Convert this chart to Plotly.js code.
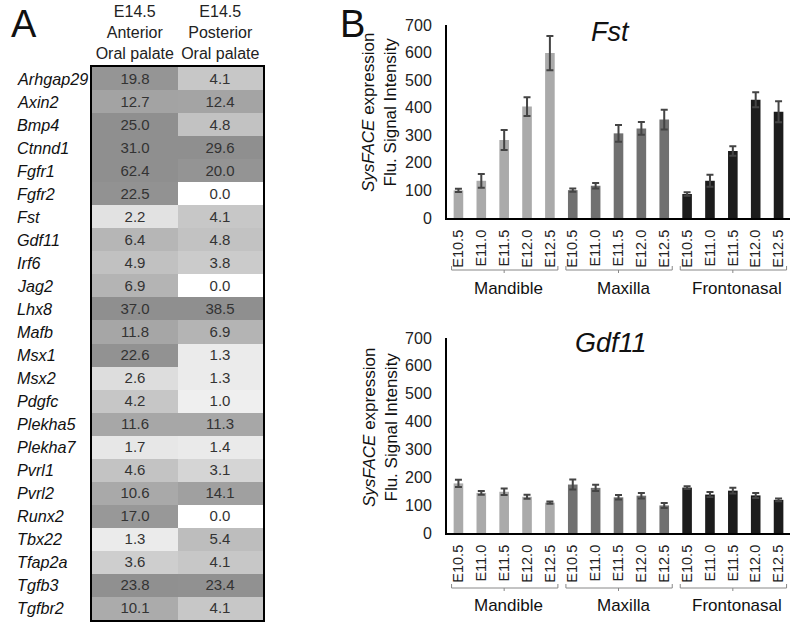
<!DOCTYPE html>
<html><head><meta charset="utf-8">
<script src="https://cdn.plot.ly/plotly-3.0.1.min.js"></script>
<style>html,body{margin:0;padding:0;background:#fff}#chart{width:800px;height:625px}</style>
</head><body><div id="chart"></div>
<script>
// ---- Panel A data ----
const genes = ["Arhgap29","Axin2","Bmp4","Ctnnd1","Fgfr1","Fgfr2","Fst","Gdf11","Irf6","Jag2","Lhx8","Mafb","Msx1","Msx2","Pdgfc","Plekha5","Plekha7","Pvrl1","Pvrl2","Runx2","Tbx22","Tfap2a","Tgfb3","Tgfbr2"];
const regions = ["E14.5<br>Anterior<br>Oral palate","E14.5<br>Posterior<br>Oral palate"];
const anterior = [19.8,12.7,25.0,31.0,62.4,22.5,2.2,6.4,4.9,6.9,37.0,11.8,22.6,2.6,4.2,11.6,1.7,4.6,10.6,17.0,1.3,3.6,23.8,10.1];
const posterior = [4.1,12.4,4.8,29.6,20.0,0.0,4.1,4.8,3.8,0.0,38.5,6.9,1.3,1.3,1.0,11.3,1.4,3.1,14.1,0.0,5.4,4.1,23.4,4.1];

// ---- Panel B data ----
const stages = ["E10.5","E11.0","E11.5","E12.0","E12.5"];
const groups = ["Mandible","Maxilla","Frontonasal"];
const fstMean = [[100,135,283,404,598],[101,117,307,325,357],[87,135,243,429,385]];
const fstErr  = [[6,25,36,34,62],[6,10,30,23,36],[6,22,17,27,38]];
const gdfMean = [[178,144,148,130,109],[174,162,128,134,99],[163,138,152,135,119]];
const gdfErr  = [[13,7,12,7,4],[18,11,8,10,9],[5,9,10,9,5]];
const groupColors = ["#aaaaaa","#707070","#1c1c1c"];

const FONT = "Liberation Sans, Arial, sans-serif";
const traces = [];

// heatmap
const z = genes.map((g,i)=>[anterior[i],posterior[i]]);
const txt = genes.map((g,i)=>[anterior[i].toFixed(1),posterior[i].toFixed(1)]);
traces.push({
  type:'heatmap', x:[0,1], y:genes, z:z, text:txt, texttemplate:'%{text}',
  textfont:{family:FONT,size:15,color:'#333'},
  zmin:0, zmax:25, showscale:false, xaxis:'x', yaxis:'y', hoverinfo:'skip',
  colorscale:[[0,'#ffffff'],[0.05,'#ebebeb'],[0.09,'#e2e2e2'],[0.16,'#c8c8c8'],[0.25,'#b6b6b6'],[0.5,'#a4a4a4'],[0.7,'#979797'],[1,'#8f8f8f']]
});

const tickIdx = [], tickTxt = [];
groups.forEach((g,gi)=>stages.forEach((s,si)=>{tickIdx.push(gi*5+si); tickTxt.push(s);}));

function addBars(means, errs, xa, ya){
  groups.forEach((g,gi)=>{
    traces.push({
      type:'bar', x:stages.map((s,si)=>gi*5+si), y:means[gi],
      marker:{color:groupColors[gi]}, width:0.42,
      error_y:{type:'data', array:errs[gi], visible:true, color:'#444', thickness:2, width:3.5},
      xaxis:xa, yaxis:ya, showlegend:false, hoverinfo:'skip'
    });
  });
}
addBars(fstMean, fstErr, 'x2', 'y2');
addBars(gdfMean, gdfErr, 'x3', 'y3');

const annotations = [];
const shapes = [];
// row labels
genes.forEach(g=>annotations.push({xref:'paper', yref:'y', x:15/800, y:g, text:g, showarrow:false, xanchor:'left', yanchor:'middle', font:{family:FONT, size:16.2, color:'#111', style:'italic'}}));
// panel letters
annotations.push({xref:'paper',yref:'paper',x:9/800,y:1-1/625,text:'A',showarrow:false,xanchor:'left',yanchor:'top',font:{family:FONT,size:38,color:'#111'}});
annotations.push({xref:'paper',yref:'paper',x:338/800,y:1-1/625,text:'B',showarrow:false,xanchor:'left',yanchor:'top',font:{family:FONT,size:38,color:'#111'}});
// titles
annotations.push({xref:'x2',yref:'paper',x:6.65,y:1-32/625,text:'Fst',showarrow:false,xanchor:'center',yanchor:'middle',font:{family:FONT,size:27,color:'#111',style:'italic'}});
annotations.push({xref:'x3',yref:'paper',x:6.65,y:1-343/625,text:'Gdf11',showarrow:false,xanchor:'center',yanchor:'middle',font:{family:FONT,size:27,color:'#111',style:'italic'}});
// y titles
[[113],[428]].forEach(([cy])=>{
  annotations.push({xref:'paper',yref:'paper',x:380/800,y:1-cy/625,text:'<i>SysFACE</i> expression<br>Flu. Signal Intensity',showarrow:false,textangle:-90,xanchor:'center',yanchor:'middle',font:{family:FONT,size:17,color:'#111'}});
});
// group labels and brackets
[['x2',270,288],['x3',588,605]].forEach(([xa,by,ly])=>{
  groups.forEach((g,gi)=>{
    annotations.push({xref:xa,yref:'paper',x:gi*5+2.2,y:1-ly/625,text:g,showarrow:false,xanchor:'center',yanchor:'middle',font:{family:FONT,size:17,color:'#111'}});
    const x0 = gi*5-0.3, x1 = gi*5+4.35, xm = gi*5+2;
    const yb = 1-by/625, yu = 1-(by-4)/625, yd = 1-(by+3)/625;
    shapes.push({type:'path',xref:xa,yref:'paper',path:`M ${x0},${yu} L ${x0},${yb} L ${x1},${yb} L ${x1},${yu}`,line:{color:'#888',width:1}});
    shapes.push({type:'line',xref:xa,yref:'paper',x0:xm,x1:xm,y0:yb,y1:yd,line:{color:'#888',width:1}});
  });
});

const barX = (dom)=>({domain:dom, range:[-0.5,14.5], type:'linear', tickvals:tickIdx, ticktext:tickTxt, tickangle:-90,
  showline:true, linecolor:'#000', linewidth:2, showgrid:false, zeroline:false, ticks:'', ticklabelstandoff:4,
  tickfont:{family:FONT,size:14.5,color:'#222'}, fixedrange:true});
const barY = (dom, anchor)=>({domain:dom, range:[0,700], tickvals:[0,100,200,300,400,500,600,700], anchor:anchor,
  showline:true, linecolor:'#000', linewidth:2, showgrid:false, zeroline:false, ticks:'', ticklabelstandoff:10,
  tickfont:{family:FONT,size:16,color:'#222'}});

const layout = {
  width:800, height:625, margin:{l:0,r:0,t:0,b:0}, paper_bgcolor:'#fff', plot_bgcolor:'rgba(0,0,0,0)',
  showlegend:false, barmode:'group', font:{family:FONT},
  xaxis:{domain:[92/800,263/800], range:[-0.5,1.5], tickvals:[0,1], ticktext:regions, side:'top', ticks:'',
    tickfont:{family:FONT,size:16,color:'#222'}, showline:true, mirror:true, linecolor:'#000', linewidth:2, showgrid:false, zeroline:false, anchor:'y'},
  yaxis:{domain:[1-620/625,1-67/625], autorange:'reversed', showticklabels:false, ticks:'', showline:true, mirror:true, linecolor:'#000', linewidth:2, showgrid:false, zeroline:false, anchor:'x'},
  xaxis2:Object.assign(barX([447/800,790/800]),{anchor:'y2'}),
  yaxis2:barY([1-218/625,1-25/625],'x2'),
  xaxis3:Object.assign(barX([447/800,790/800]),{anchor:'y3'}),
  yaxis3:barY([1-533/625,1-338/625],'x3'),
  annotations:annotations, shapes:shapes
};
Plotly.newPlot('chart', traces, layout, {staticPlot:true, displayModeBar:false});
</script></body></html>
